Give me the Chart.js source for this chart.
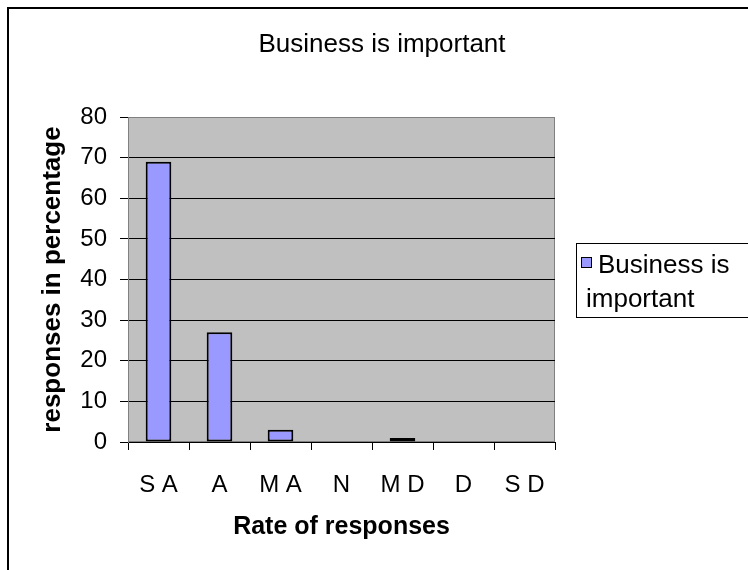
<!DOCTYPE html>
<html>
<head>
<meta charset="utf-8">
<title>Business is important</title>
<script src="https://cdn.jsdelivr.net/npm/chart.js@4.4.0/dist/chart.umd.min.js"></script>
<style>
  html, body { margin: 0; padding: 0; background: #fff; }
  #wrap { width: 748px; height: 570px; }
</style>
</head>
<body>
<div id="wrap"><canvas id="chart" width="748" height="570"></canvas></div>
<script>
// --- Data ---
const categories = ["S A", "A", "M A", "N", "M D", "D", "S D"];
const responses = [69, 27, 3, 0, 1, 0, 0];
const yMin = 0, yMax = 80, yStep = 10;
const chartTitle = "Business is important";
const seriesName = "Business is important";
const legendLines = ["Business is", "important"];
const xTitle = "Rate of responses";
const yTitle = "responses in percentage";

const FONT = "'Liberation Sans', Arial, sans-serif";
const barColor = '#9999ff';

// --- Frame, plot fill, title and legend (Excel look) ---
const excelFrame = {
    id: 'excelFrame',
    beforeDraw(chart) {
        const { ctx, chartArea: a } = chart;
        ctx.save();
        ctx.fillStyle = '#fff';
        ctx.fillRect(0, 0, chart.width, chart.height);
        // outer chart border, cut off at right and bottom
        ctx.strokeStyle = '#000';
        ctx.lineWidth = 2;
        ctx.strokeRect(8, 8, chart.width + 20, chart.height + 20);
        // plot area
        ctx.fillStyle = '#c0c0c0';
        ctx.fillRect(a.left, a.top, a.right - a.left, a.bottom - a.top);
        ctx.strokeStyle = '#808080';
        ctx.lineWidth = 1;
        ctx.strokeRect(a.left + 0.5, a.top + 0.5, a.right - a.left - 1, a.bottom - a.top - 1);
        ctx.restore();
    },
    afterDraw(chart) {
        const { ctx } = chart;
        ctx.save();
        // chart title
        ctx.fillStyle = '#000';
        ctx.font = '26px ' + FONT;
        ctx.textAlign = 'center';
        ctx.textBaseline = 'alphabetic';
        ctx.fillText(chartTitle, 382, 52);
        // legend box
        ctx.strokeStyle = '#000';
        ctx.lineWidth = 1;
        ctx.fillStyle = '#fff';
        ctx.fillRect(576.5, 243.5, 220, 74);
        ctx.strokeRect(576.5, 243.5, 220, 74);
        ctx.fillStyle = chart.data.datasets[0].backgroundColor;
        ctx.fillRect(581.5, 257.5, 10, 10);
        ctx.strokeRect(581.5, 257.5, 10, 10);
        ctx.fillStyle = '#000';
        ctx.font = '26px ' + FONT;
        ctx.textAlign = 'left';
        ctx.fillText(legendLines[0], 598, 273);
        ctx.fillText(legendLines[1], 586, 307);
        ctx.restore();
    }
};

new Chart(document.getElementById('chart').getContext('2d'), {
    type: 'bar',
    data: {
        labels: categories,
        datasets: [{
            label: seriesName,
            data: responses,
            backgroundColor: barColor,
            borderColor: '#000',
            borderWidth: 2,
            borderSkipped: false,
            barPercentage: 0.42,
            categoryPercentage: 1
        }]
    },
    options: {
        responsive: false,
        animation: false,
        layout: { padding: { left: 15, top: 117, right: 193, bottom: 0 } },
        plugins: {
            legend: { display: false },
            title: { display: false },
            tooltip: { enabled: false }
        },
        scales: {
            x: {
                afterFit: s => { s.height = 128; },
                grid: {
                    offset: true,
                    drawOnChartArea: false,
                    tickLength: 8,
                    tickColor: '#000'
                },
                border: { color: '#000', width: 1 },
                ticks: { color: '#000', padding: 21, font: { family: FONT, size: 24 } },
                title: {
                    display: true,
                    text: xTitle,
                    color: '#000',
                    font: { family: FONT, size: 25, weight: 'bold' },
                    padding: { top: 4, bottom: 28 }
                }
            },
            y: {
                min: yMin,
                max: yMax,
                afterFit: s => { s.width = 113; },
                grid: {
                    color: c => (c.tick && c.tick.value === yMax ? '#808080' : '#000'),
                    tickLength: 8,
                    tickColor: '#000'
                },
                border: { color: '#808080', width: 1 },
                ticks: { stepSize: yStep, color: '#000', padding: 13, font: { family: FONT, size: 24 } },
                title: {
                    display: true,
                    text: yTitle,
                    color: '#000',
                    font: { family: FONT, size: 26, weight: 'bold' },
                    padding: { top: 22, bottom: 4 }
                }
            }
        }
    },
    plugins: [excelFrame]
});
</script>
</body>
</html>
